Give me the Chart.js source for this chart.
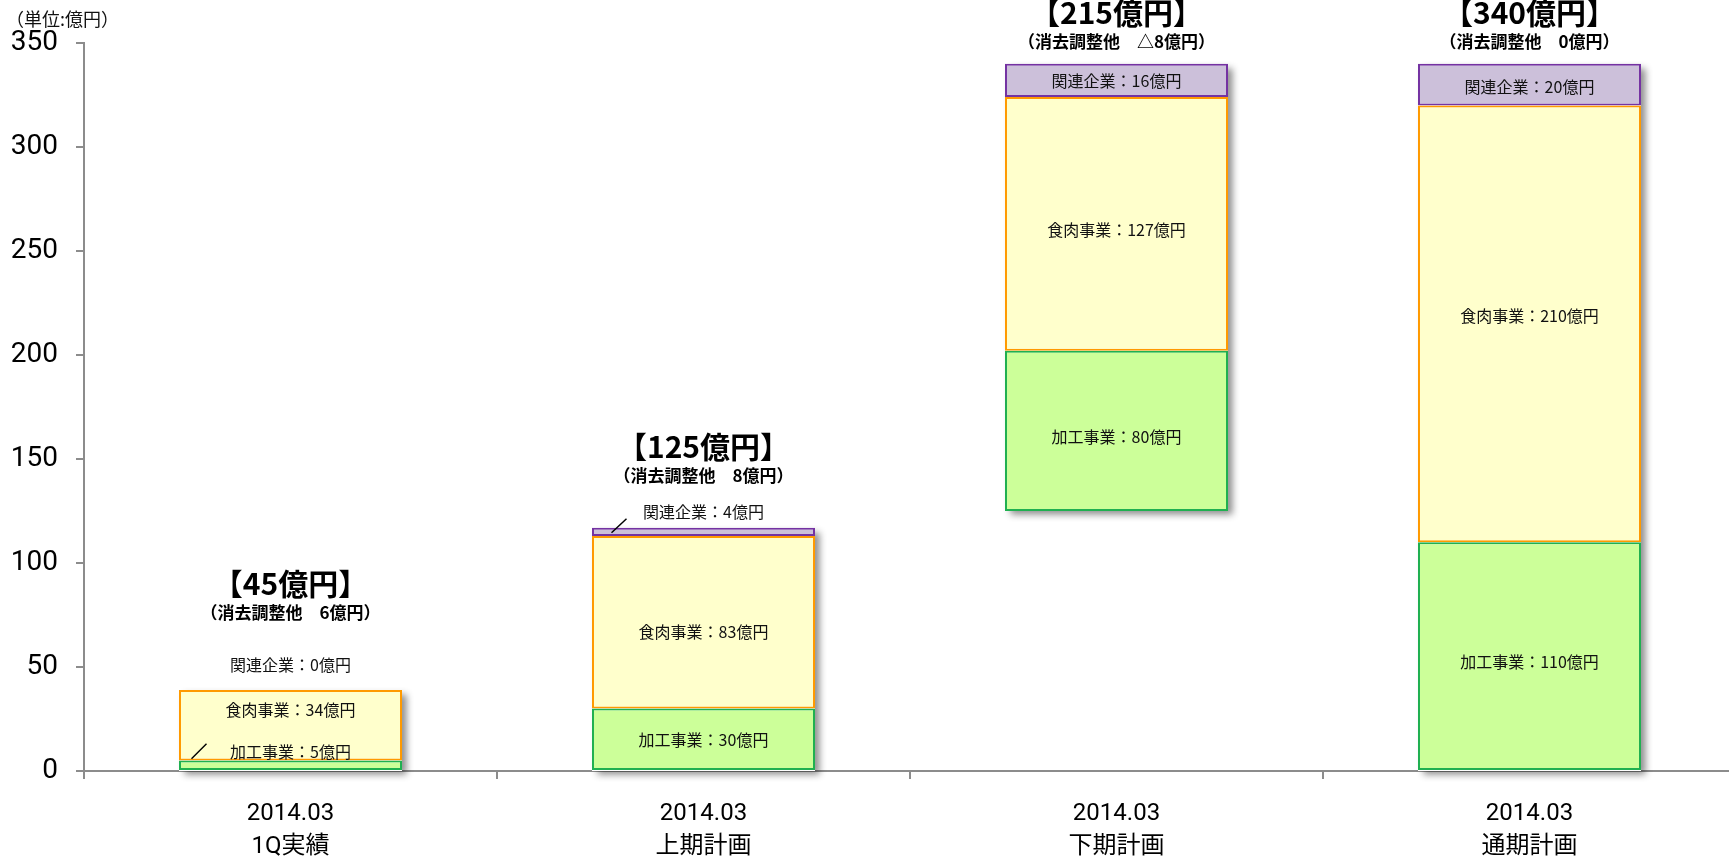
<!DOCTYPE html>
<html>
<head>
<meta charset="utf-8">
<script src="https://cdn.jsdelivr.net/npm/chart.js@4"></script>
<style>
    html, body { margin: 0; padding: 0; overflow: hidden; background: #fff; }
</style>
</head>
<body>
<canvas id="chart" width="1740" height="860"></canvas>
<script>
// data (億円)
const categories = [['2014.03', '1Q実績'], ['2014.03', '上期計画'], ['2014.03', '下期計画'], ['2014.03', '通期計画']];
const baseValues = [0, 0, 125, 0];
const kakouValues = [5, 30, 77, 110];
const shokunikuValues = [34, 83, 122, 210];
const kanrenValues = [0, 4, 16, 20];

const kakouLabels = ['加工事業：5億円', '加工事業：30億円', '加工事業：80億円', '加工事業：110億円'];
const shokunikuLabels = ['食肉事業：34億円', '食肉事業：83億円', '食肉事業：127億円', '食肉事業：210億円'];
const kanrenLabels = ['関連企業：0億円', '関連企業：4億円', '関連企業：16億円', '関連企業：20億円'];
const totalLabels = ['【45億円】', '【125億円】', '【215億円】', '【340億円】'];
const adjustLabels = ['（消去調整他　6億円）', '（消去調整他　8億円）', '（消去調整他　△8億円）', '（消去調整他　0億円）'];
const unitLabel = '（単位:億円）';

// layout tweaks (px)
const labelShift = [
    [-14, 0, 6, 5],      // 加工事業
    [-15, 10, 6, -7.5],  // 食肉事業
    [-25, -20, 0, 2]     // 関連企業
];
const leaders = [
    { row: 0, i: 0, from: [-99, 7], to: [-84, -8] },
    { row: 2, i: 1, from: [-92, 21], to: [-77, 7] }
];
const titleGap = [106, 81, 51, 51];

const FONT = "Roboto, 'Noto Sans CJK JP', sans-serif";
const JP = "'Noto Sans CJK JP', sans-serif";

const stackTop = i => baseValues[i] + kakouValues[i] + shokunikuValues[i] + kanrenValues[i];

const shadowPlugin = {
    id: 'barShadow',
    beforeDatasetsDraw(chart) {
        const { ctx, scales: { y } } = chart;
        const meta = chart.getDatasetMeta(1);
        ctx.save();
        ctx.shadowColor = 'rgba(0,0,0,0.45)';
        ctx.shadowBlur = 7;
        ctx.shadowOffsetX = 5;
        ctx.shadowOffsetY = 4;
        ctx.fillStyle = '#fff';
        meta.data.forEach((bar, i) => {
            const top = y.getPixelForValue(stackTop(i));
            const bottom = y.getPixelForValue(baseValues[i]);
            ctx.fillRect(bar.x - bar.width / 2, top, bar.width, bottom - top);
        });
        ctx.restore();
    }
};

const labelPlugin = {
    id: 'barLabels',
    afterDatasetsDraw(chart) {
        const { ctx, scales: { x, y } } = chart;
        const rows = [kakouLabels, shokunikuLabels, kanrenLabels];
        const vals = [kakouValues, shokunikuValues, kanrenValues];
        const labelPos = (r, i) => {
            let start = baseValues[i];
            for (let k = 0; k < r; k++) start += vals[k][i];
            return [x.getPixelForValue(i), y.getPixelForValue(start + vals[r][i] / 2) + labelShift[r][i]];
        };
        ctx.save();
        ctx.fillStyle = '#111';
        ctx.textAlign = 'center';
        ctx.textBaseline = 'middle';
        ctx.font = '16px ' + JP;
        rows.forEach((texts, r) => {
            texts.forEach((t, i) => {
                const [cx, cy] = labelPos(r, i);
                ctx.fillText(t, cx, cy);
            });
        });

        ctx.strokeStyle = '#000';
        ctx.lineWidth = 1.5;
        leaders.forEach(l => {
            const [cx, cy] = labelPos(l.row, l.i);
            ctx.beginPath();
            ctx.moveTo(cx + l.from[0], cy + l.from[1]);
            ctx.lineTo(cx + l.to[0], cy + l.to[1]);
            ctx.stroke();
        });

        categories.forEach((c, i) => {
            const cx = x.getPixelForValue(i);
            const ty = y.getPixelForValue(stackTop(i)) - titleGap[i];
            ctx.fillStyle = '#000';
            ctx.font = 'bold 30px ' + JP;
            ctx.fillText(totalLabels[i], cx, ty);
            ctx.font = 'bold 17px ' + JP;
            ctx.fillText(adjustLabels[i], cx, ty + 29);
        });

        ctx.textAlign = 'left';
        ctx.font = '18px ' + JP;
        ctx.fillStyle = '#111';
        ctx.fillText(unitLabel, 6, 19);
        ctx.restore();
    }
};

const barCommon = {
    borderWidth: 2,
    borderSkipped: false,
    categoryPercentage: 1,
    barPercentage: 0.54
};

new Chart(document.getElementById('chart'), {
    type: 'bar',
    data: {
        labels: categories,
        datasets: [
            { ...barCommon, data: baseValues, backgroundColor: 'rgba(0,0,0,0)', borderWidth: 0 },
            { ...barCommon, data: kakouValues, backgroundColor: '#ccff99', borderColor: '#1fb050' },
            { ...barCommon, data: shokunikuValues, backgroundColor: '#ffffcc', borderColor: '#ff9a00' },
            { ...barCommon, data: kanrenValues.map(v => v || null), backgroundColor: '#ccc0da', borderColor: '#7432a2' }
        ]
    },
    options: {
        responsive: false,
        animation: false,
        layout: { padding: { top: 43, right: 4, left: 0, bottom: 0 } },
        plugins: { legend: { display: false }, tooltip: { enabled: false } },
        scales: {
            x: {
                stacked: true,
                afterFit: s => { s.height = 89; },
                grid: { offset: true, drawOnChartArea: false, tickLength: 8, color: '#8c8c8c', lineWidth: 2 },
                border: { color: '#8c8c8c', width: 2 },
                ticks: {
                    color: '#000',
                    padding: 19,
                    font: { family: FONT, size: 24, lineHeight: 1.36 }
                }
            },
            y: {
                stacked: true,
                min: 0,
                max: 350,
                afterFit: s => { s.width = 84; },
                grid: { drawOnChartArea: false, tickLength: 8, color: '#8c8c8c', lineWidth: 2 },
                border: { color: '#8c8c8c', width: 2 },
                ticks: {
                    stepSize: 50,
                    color: '#000',
                    padding: 18,
                    font: { family: FONT, size: 28 }
                }
            }
        }
    },
    plugins: [shadowPlugin, labelPlugin]
});
</script>
</body>
</html>
